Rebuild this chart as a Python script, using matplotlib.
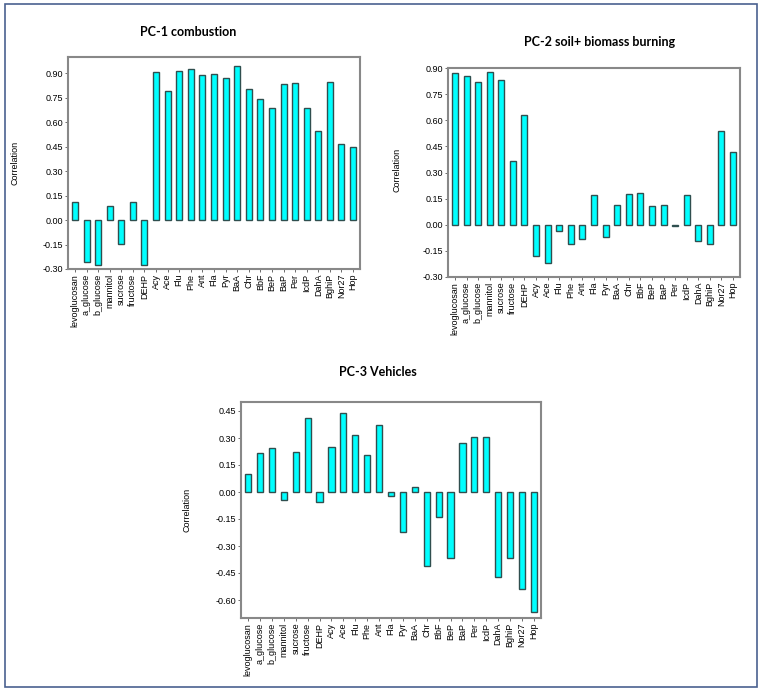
import numpy as np
import matplotlib
matplotlib.use("Agg")
import matplotlib.pyplot as plt
from matplotlib.patches import Rectangle

compounds = ["levoglucosan", "a_glucose", "b_glucose", "mannitol", "sucrose",
             "fructose", "DEHP", "Acy", "Ace", "Flu", "Phe", "Ant", "Fla", "Pyr",
             "BaA", "Chr", "BbF", "BeP", "BaP", "Per", "IcdP", "DahA", "BghiP",
             "Nor27", "Hop"]

pc1 = [0.112, -0.258, -0.278, 0.084, -0.145, 0.110, -0.278, 0.909, 0.792, 0.915,
       0.925, 0.888, 0.894, 0.872, 0.945, 0.802, 0.745, 0.686, 0.833, 0.843,
       0.686, 0.548, 0.849, 0.465, 0.446]
pc2 = [0.873, 0.852, 0.818, 0.877, 0.833, 0.366, 0.629, -0.179, -0.221, -0.036,
       -0.112, -0.082, 0.173, -0.070, 0.111, 0.177, 0.185, 0.105, 0.111, -0.008,
       0.172, -0.095, -0.112, 0.541, 0.416]
pc3 = [0.099, 0.218, 0.244, -0.042, 0.220, 0.409, -0.055, 0.248, 0.439, 0.314,
       0.206, 0.375, -0.022, -0.220, 0.026, -0.413, -0.140, -0.367, 0.270, 0.307,
       0.307, -0.472, -0.364, -0.538, -0.665]

W, H = 763, 692
plt.rcParams['font.family'] = ['Liberation Sans', 'DejaVu Sans']

fig = plt.figure(figsize=(W / 100, H / 100), dpi=100)


def px_axes(left, top, right, bottom):
    return fig.add_axes([left / W, 1 - bottom / H, (right - left) / W, (bottom - top) / H])


def panel(ax, vals, ylim, ticks):
    x = np.arange(len(compounds))
    ax.bar(x, vals, width=0.52, color="#00FFFF", edgecolor="#2F4F4F", linewidth=1.0)
    ax.set_xlim(-0.6, len(compounds) - 0.4)
    ax.set_ylim(*ylim)
    ax.set_yticks(ticks)
    ax.set_yticklabels(["%.2f" % t for t in ticks], fontsize=6.5)
    ax.set_xticks(x)
    ax.set_xticklabels(compounds, rotation=90, fontsize=6.5)
    ax.tick_params(axis="both", length=2, width=0.6, color="#555555", pad=1.5)
    for s in ax.spines.values():
        s.set_color("#888888")
        s.set_linewidth(1.5)


ax1 = px_axes(68, 57, 360, 269)
panel(ax1, pc1, (-0.30, 1.0), np.arange(-0.30, 0.91, 0.15))
ax2 = px_axes(448, 68, 740, 277)
panel(ax2, pc2, (-0.30, 0.90), np.arange(-0.30, 0.91, 0.15))
ax3 = px_axes(241, 402, 541, 618)
panel(ax3, pc3, (-0.70, 0.50), np.arange(-0.60, 0.46, 0.15))

title_kw = dict(fontsize=9, fontweight="bold", family=["Lato", "DejaVu Sans"],
                ha="center", va="center")
fig.text(188 / W, 1 - 32 / H, "PC-1 combustion", **title_kw)
fig.text(600 / W, 1 - 42 / H, "PC-2 soil+ biomass burning", **title_kw)
fig.text(378 / W, 1 - 372 / H, "PC-3 Vehicles", **title_kw)

ylab_kw = dict(fontsize=6.5, rotation=90, ha="center", va="center")
fig.text(15 / W, 1 - 163 / H, "Correlation", **ylab_kw)
fig.text(397 / W, 1 - 170 / H, "Correlation", **ylab_kw)
fig.text(187 / W, 1 - 510 / H, "Correlation", **ylab_kw)

fig.patches.append(Rectangle((4.5 / W, 1 - 687 / H), 752.5 / W, 683 / H,
                             transform=fig.transFigure, fill=False,
                             edgecolor="#4A6190", linewidth=1.2))

fig.savefig("out.png", dpi=100)
